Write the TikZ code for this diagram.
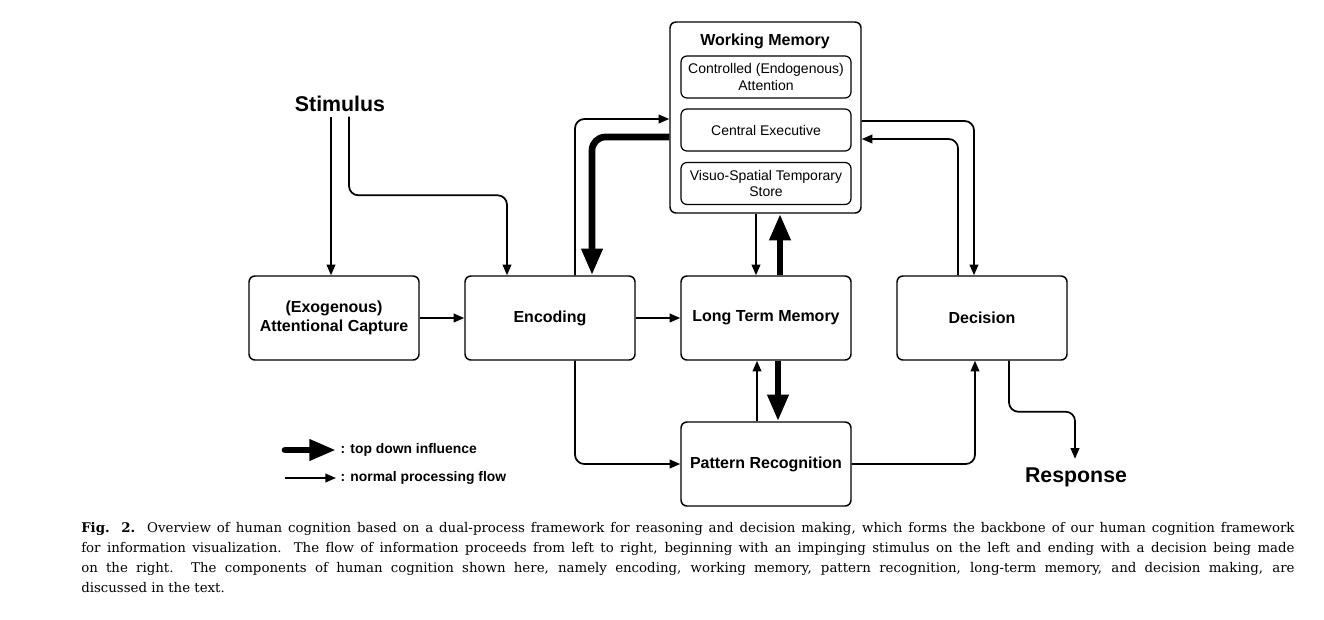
\documentclass[tikz,border=0pt]{standalone}
\usepackage{fontspec}
\setmainfont{Liberation Serif}
\setsansfont{Liberation Sans}
\newfontfamily\capfont{DejaVu Serif}
\usetikzlibrary{arrows.meta}
\usetikzlibrary{calc}

\begin{document}
\begin{tikzpicture}[x=0.75pt, y=-0.75pt,
    box/.style={draw, line width=1.1pt, rounded corners=4.5pt, minimum width=127.5pt, minimum height=63pt, align=center, font=\sffamily\bfseries\fontsize{12}{14}\selectfont},
    inbox/.style={draw, line width=0.9pt, rounded corners=4.5pt, minimum width=127.5pt, minimum height=31.5pt, align=center, font=\sffamily\fontsize{10.5}{12.5}\selectfont},
    flow/.style={line width=1.3pt, rounded corners=7pt, -{Triangle[length=8pt,width=6.5pt]}},
    topdown/.style={line width=5pt, rounded corners=10pt, -{Triangle[length=20pt,width=15pt]}},
    big/.style={font=\sffamily\bfseries\fontsize{16}{19}\selectfont},
    legend/.style={font=\sffamily\bfseries\fontsize{10.4}{12}\selectfont}]
    \useasboundingbox (0,0) rectangle (1324,619);
    % working memory
    \node[draw, line width=1.1pt, rounded corners=4.5pt, minimum width=143.25pt, minimum height=143.25pt] (wm) at (765.5,117.5) {};
    \node[font=\sffamily\bfseries\fontsize{12}{14}\selectfont] (wmt) at (765,41) {Working Memory};
    \node[inbox] (att) at (766,77) {Controlled (Endogenous)\\Attention};
    \node[inbox] (ce) at (766,130) {Central Executive};
    \node[inbox] (vs) at (766,183.5) {Visuo-Spatial Temporary\\Store};
    % stages
    \node[box] (exo) at (334,318) {(Exogenous)\\Attentional Capture};
    \node[box] (enc) at (550,318) {Encoding};
    \node[box] (ltm) at (766,318) {Long Term Memory};
    \node[box] (dec) at (982,318) {Decision};
    \node[box] (pat) at (766,464) {Pattern Recognition};
    \node[big] (stim) at (340,104) {Stimulus};
    \node[big] (resp) at (1076,477) {Response};
    % normal flow
    \draw[flow] ($(stim.south)+(-9,0)$) -- ($(exo.north)+(-3,0)$);
    \draw[flow] ($(stim.south)+(9,0)$) |- ($(enc.north)+(-43,-80)$) -- ($(enc.north)+(-43,0)$);
    \draw[flow] (exo) -- (enc);
    \draw[flow] (enc) -- (ltm);
    \draw[flow] ($(enc.north)+(25,0)$) |- ($(wm.west)+(0,1.5)$);
    \draw[flow] ($(wm.south)+(-9.5,0)$) -- ($(ltm.north)+(-10,0)$);
    \draw[flow] ($(pat.north)+(-9,0)$) -- ($(ltm.south)+(-9,0)$);
    \draw[flow] ($(enc.south)+(25,0)$) |- (pat.west);
    \draw[flow] (pat.east) -| ($(dec.south)+(-7,0)$);
    \draw[flow] ($(wm.east)+(0,3.5)$) -| ($(dec.north)+(-8,0)$);
    \draw[flow] ($(dec.north)+(-24,0)$) |- ($(wm.east)+(0,21.5)$);
    \draw[flow] ($(dec.south)+(27,0)$) -- ++(0,51) -| ($(resp.north)+(-1,-4)$);
    % top down influence
    \draw[topdown] ($(wm.west)+(0,19.5)$) -| ($(enc.north)+(42,0)$);
    \draw[topdown] ($(ltm.north)+(14,0)$) -- ($(wm.south)+(14.5,0)$);
    \draw[topdown] ($(ltm.south)+(12,0)$) -- ($(pat.north)+(12,0)$);
    % legend
    \coordinate (l1) at (285,450);
    \coordinate (l2) at (285,478);
    \node[legend, anchor=west] (lg1) at (336,450) {: top down influence};
    \node[legend, anchor=west] (lg2) at (336,478) {: normal processing flow};
    \draw[topdown, line cap=round] (l1) -- (lg1.west);
    \draw[flow] (l2) -- (lg2.west);
    % caption
    \node[anchor=north west, text width=910pt, align=justify, inner sep=0pt, font=\capfont\fontsize{10}{15}\selectfont] (cap) at (81,522) {\textbf{Fig. 2.}\ \ Overview of human cognition based on a dual-process framework for reasoning and decision making, which forms the backbone of our human cognition framework\linebreak for information visualization. The flow of information proceeds from left to right, beginning with an impinging stimulus on the left and ending with a decision being made\linebreak on the right. The components of human cognition shown here, namely encoding, working memory, pattern recognition, long-term memory, and decision making, are\linebreak discussed in the text.};
\end{tikzpicture}
\end{document}
